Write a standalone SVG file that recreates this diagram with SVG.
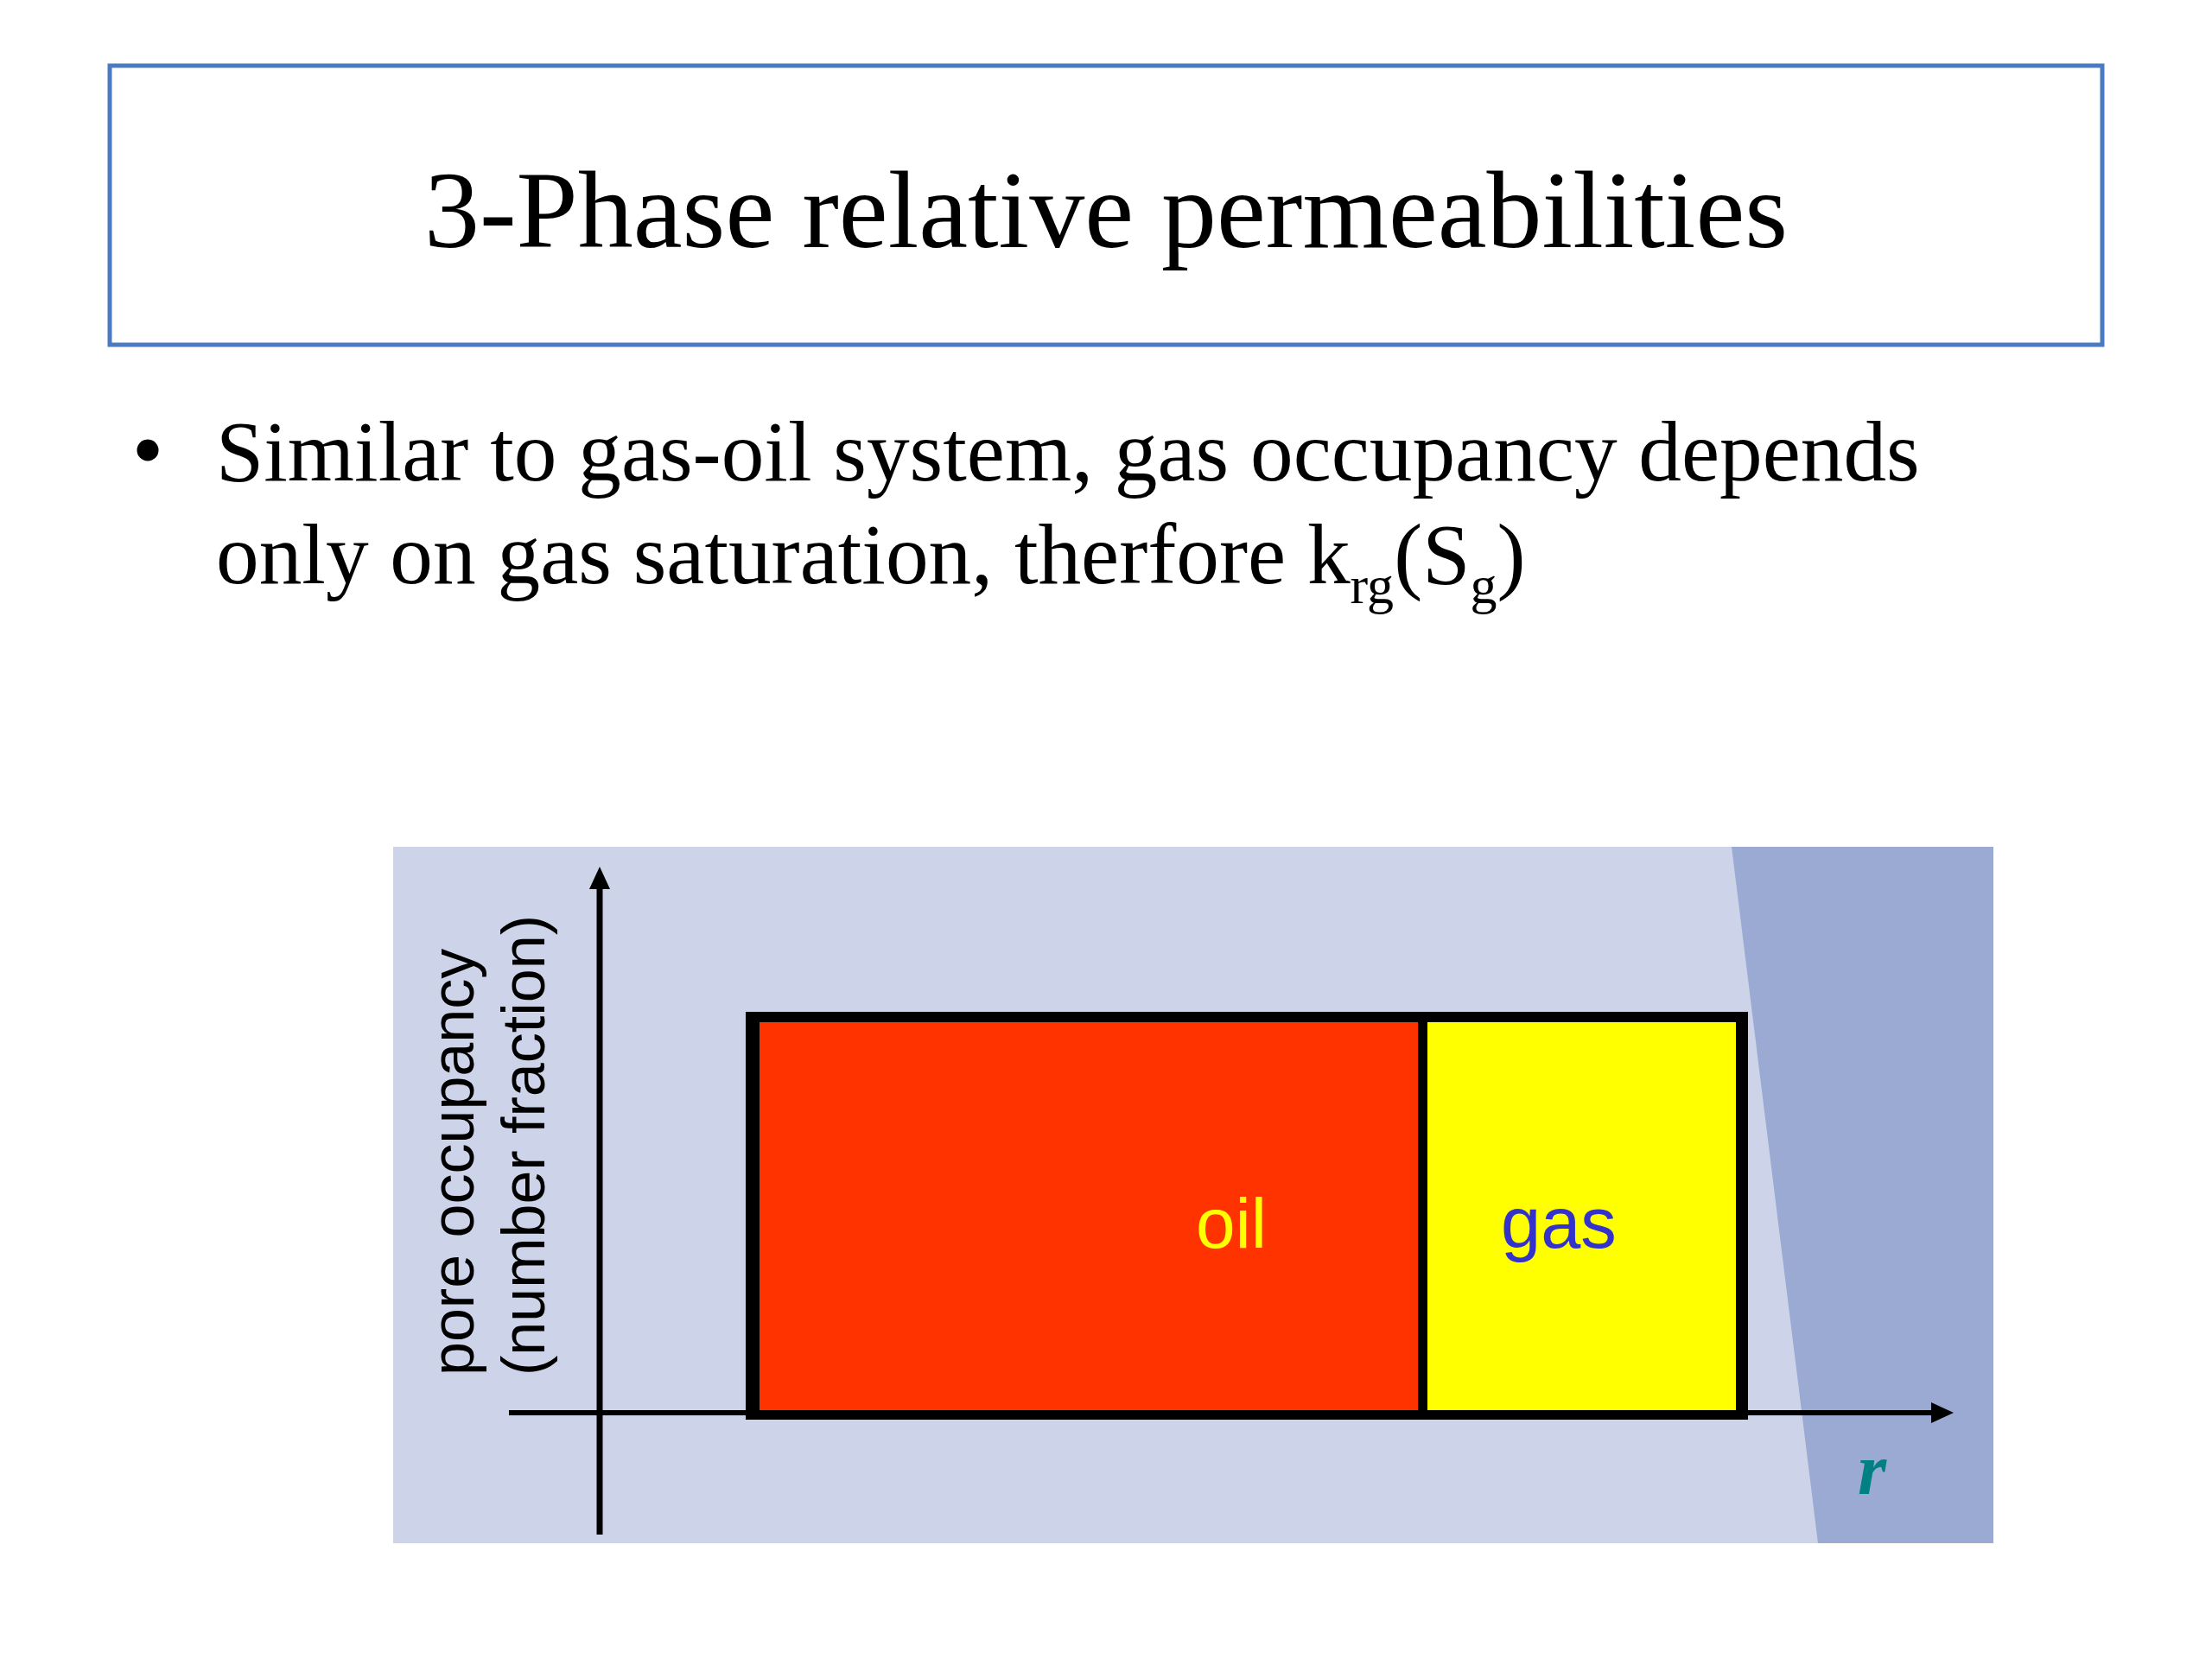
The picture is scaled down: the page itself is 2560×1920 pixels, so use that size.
<svg xmlns="http://www.w3.org/2000/svg" width="2560" height="1920" viewBox="0 0 2560 1920">
  <style>
    .serif { font-family: "Liberation Serif", "Times New Roman", serif; fill: #000; }
    .sans { font-family: "Liberation Sans", Arial, sans-serif; }
    .border { fill: #000; }
  </style>
  <defs>
    <marker id="arrow" markerUnits="userSpaceOnUse" markerWidth="26" markerHeight="24" refX="6" refY="12" orient="auto">
      <path d="M0,0 L26,12 L0,24 z" fill="#000"/>
    </marker>
  </defs>
  <rect x="0" y="0" width="2560" height="1920" fill="#fff"/>

  <g id="title">
    <rect x="127" y="76" width="2306" height="323" fill="#fff" stroke="#4A7BC0" stroke-width="5"/>
    <text class="serif" x="1280" y="286" font-size="128" text-anchor="middle">3-Phase relative permeabilities</text>
  </g>

  <g id="bullet">
    <circle cx="171" cy="521" r="12.5" fill="#000"/>
    <text class="serif" x="250" y="556" font-size="99.3">Similar to gas-oil system, gas occupancy depends</text>
    <text class="serif" x="250" y="675" font-size="99.3">only on gas saturation, therfore k<tspan font-size="62" dy="23">rg</tspan><tspan dy="-23">(S</tspan><tspan font-size="62" dy="23">g</tspan><tspan dy="-23">)</tspan></text>
  </g>

  <g id="chart-background">
    <rect x="455" y="980" width="1852" height="806" fill="#CDD3E8"/>
    <polygon points="2004,980 2307,980 2307,1786 2104,1786" fill="#9AAAD3"/>
  </g>

  <g id="oil">
    <rect x="879" y="1183" width="762" height="449" fill="#FF3300"/>
    <text class="sans" x="1384" y="1444" font-size="82" fill="#FFFF00">oil</text>
  </g>

  <g id="gas">
    <rect x="1652" y="1183" width="357" height="449" fill="#FFFF00"/>
    <text class="sans" x="1737" y="1444" font-size="83" fill="#3333CC">gas</text>
  </g>

  <g id="connectors">
    <line x1="694" y1="1776" x2="694" y2="1023" stroke="#000" stroke-width="7" marker-end="url(#arrow)"/>
    <line x1="589" y1="1635" x2="2241" y2="1635" stroke="#000" stroke-width="6" marker-end="url(#arrow)"/>
  </g>

  <g id="occupancy-box">
    <rect class="border" x="863" y="1171" width="16" height="472"/>
    <rect class="border" x="863" y="1171" width="1160" height="12"/>
    <rect class="border" x="2009" y="1171" width="14" height="472"/>
    <rect class="border" x="863" y="1632" width="1160" height="11"/>
    <rect class="border" x="1641" y="1171" width="11" height="472"/>
  </g>

  <g id="axis-labels">
    <text class="sans" font-size="70" fill="#000" transform="translate(548,1592) rotate(-90)">pore occupancy</text>
    <text class="sans" font-size="70" fill="#000" transform="translate(630,1592) rotate(-90)">(number fraction)</text>
    <text x="2150" y="1729" font-family="'Liberation Serif', 'Times New Roman', serif" font-style="italic" font-weight="bold" font-size="85" fill="#008080">r</text>
  </g>
</svg>
